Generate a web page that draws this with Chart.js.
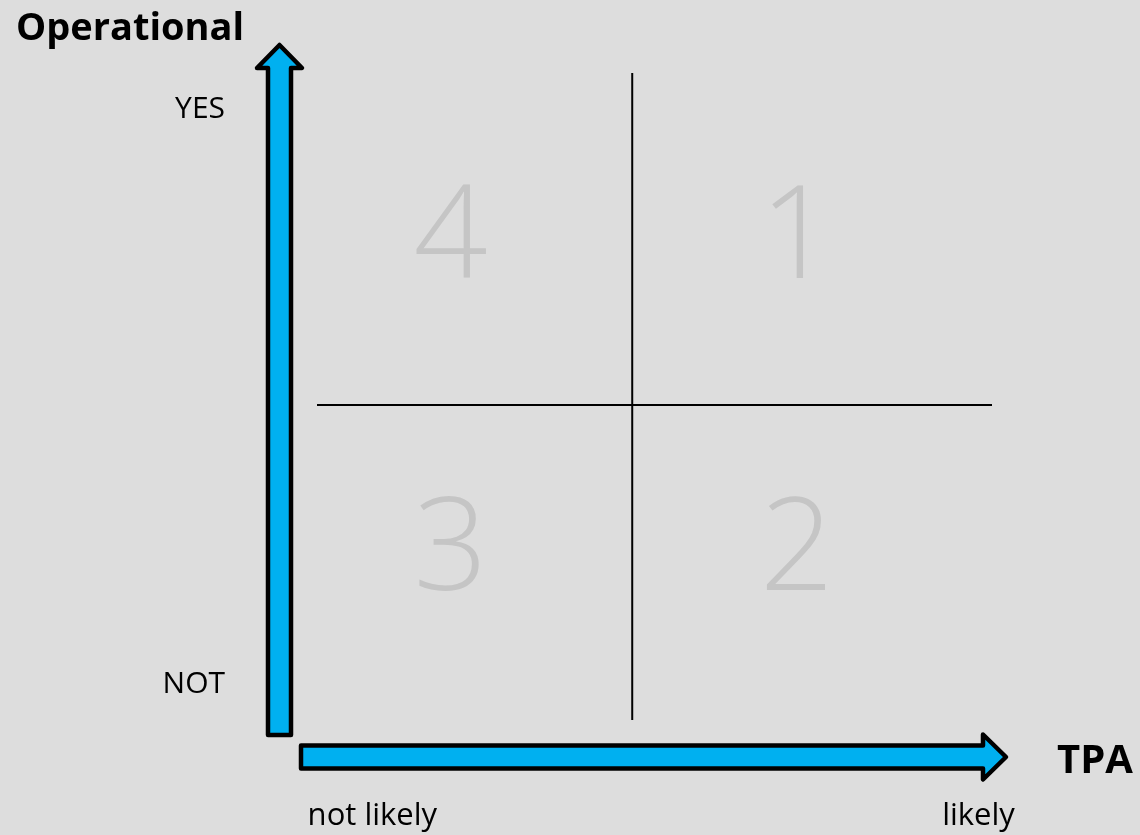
<!DOCTYPE html>
<html lang="en">
<head>
    <meta charset="UTF-8">
    <title>Operational vs TPA</title>
    <script src="https://cdn.jsdelivr.net/npm/chart.js"></script>
    <style>
        * { margin: 0; padding: 0; box-sizing: border-box; }
        body { background: #dddddd; width: 1140px; height: 835px; overflow: hidden; }
        .chart-container { position: relative; width: 1140px; height: 835px; }
    </style>
</head>
<body>
    <div class="chart-container">
        <canvas id="myChart"></canvas>
    </div>

    <script>
        // Data
        const quadrantLabels = ['4', '1', '3', '2'];
        const quadrantX = [1.98, 7.11, 1.98, 7.11];
        const quadrantY = [7.40, 7.40, 2.58, 2.58];
        const splitX = 4.67;          // vertical divider
        const splitY = 4.87;          // horizontal divider
        const yTickValues = [0.55, 9.43];
        const yTickLabels = ['NOT', 'YES'];
        const xTickValues = [0.82, 9.8];
        const xTickLabels = ['not likely', 'likely'];
        const yAxisTitle = 'Operational';
        const xAxisTitle = 'TPA';

        const BLUE = '#00b0f0';
        const FONT = "'Open Sans', 'DejaVu Sans', sans-serif";

        // Blue arrows along the axes + bold axis titles
        const arrowPlugin = {
            id: 'arrows',
            afterDraw(chart) {
                const { ctx, chartArea: a } = chart;
                ctx.save();
                ctx.fillStyle = BLUE;
                ctx.strokeStyle = '#000';
                ctx.lineWidth = 4.5;
                ctx.lineJoin = 'round';

                // vertical arrow
                const cx = a.left - 37.5;
                ctx.beginPath();
                ctx.moveTo(cx - 11.5, a.bottom + 15);
                ctx.lineTo(cx - 11.5, a.top - 5);
                ctx.lineTo(cx - 22.5, a.top - 5);
                ctx.lineTo(cx, a.top - 28);
                ctx.lineTo(cx + 22.5, a.top - 5);
                ctx.lineTo(cx + 11.5, a.top - 5);
                ctx.lineTo(cx + 11.5, a.bottom + 15);
                ctx.closePath();
                ctx.fill();
                ctx.stroke();

                // horizontal arrow
                const cy = a.bottom + 37;
                ctx.beginPath();
                ctx.moveTo(a.left - 16, cy - 11.5);
                ctx.lineTo(a.right - 9, cy - 11.5);
                ctx.lineTo(a.right - 9, cy - 22.5);
                ctx.lineTo(a.right + 14, cy);
                ctx.lineTo(a.right - 9, cy + 22.5);
                ctx.lineTo(a.right - 9, cy + 11.5);
                ctx.lineTo(a.left - 16, cy + 11.5);
                ctx.closePath();
                ctx.fill();
                ctx.stroke();

                ctx.fillStyle = '#000';
                ctx.textBaseline = 'alphabetic';
                ctx.textAlign = 'left';
                ctx.font = 'bold 38px ' + FONT;
                ctx.fillText(yAxisTitle, 16, 40);
                ctx.font = 'bold 40px ' + FONT;
                ctx.fillText(xAxisTitle, a.right + 65, cy + 16);
                ctx.restore();
            }
        };

        // Big grey quadrant numbers
        const numberPlugin = {
            id: 'quadrantNumbers',
            afterDatasetsDraw(chart) {
                const { ctx } = chart;
                const meta = chart.getDatasetMeta(2);
                ctx.save();
                ctx.fillStyle = '#c5c5c5';
                ctx.font = '300 130px ' + FONT;
                ctx.textAlign = 'center';
                ctx.textBaseline = 'middle';
                meta.data.forEach((pt, i) => {
                    ctx.fillText(quadrantLabels[i], pt.x, pt.y);
                });
                ctx.restore();
            }
        };

        const ctx = document.getElementById('myChart').getContext('2d');

        const chart = new Chart(ctx, {
            type: 'scatter',
            data: {
                datasets: [
                    {
                        type: 'line',
                        data: [{ x: splitX, y: 0 }, { x: splitX, y: 10 }],
                        borderColor: '#000',
                        borderWidth: 2,
                        pointRadius: 0
                    },
                    {
                        type: 'line',
                        data: [{ x: 0, y: splitY }, { x: 10, y: splitY }],
                        borderColor: '#000',
                        borderWidth: 2,
                        pointRadius: 0
                    },
                    {
                        data: quadrantX.map((x, i) => ({ x: x, y: quadrantY[i] })),
                        pointRadius: 0
                    }
                ]
            },
            options: {
                responsive: true,
                maintainAspectRatio: false,
                animation: false,
                events: [],
                layout: { padding: { top: 73, right: 148, left: 0, bottom: 0 } },
                plugins: {
                    legend: { display: false },
                    tooltip: { enabled: false }
                },
                scales: {
                    x: {
                        type: 'linear',
                        min: 0,
                        max: 10,
                        afterFit: s => { s.height = 115; s.paddingLeft = 0; s.paddingRight = 0; },
                        afterBuildTicks: s => { s.ticks = xTickValues.map(v => ({ value: v })); },
                        grid: { display: false, drawTicks: false },
                        border: { display: false },
                        ticks: {
                            padding: 78,
                            color: '#000',
                            font: { family: FONT, size: 31 },
                            callback: (v, i) => xTickLabels[i]
                        }
                    },
                    y: {
                        type: 'linear',
                        min: 0,
                        max: 10,
                        // big tick padding would otherwise push the plot area down
                        afterFit: s => { s.width = 317; s.paddingTop = 0; s.paddingBottom = 0; },
                        afterBuildTicks: s => { s.ticks = yTickValues.map(v => ({ value: v })); },
                        grid: { display: false, drawTicks: false },
                        border: { display: false },
                        ticks: {
                            padding: 92,
                            color: '#000',
                            font: { family: FONT, size: 30 },
                            callback: (v, i) => yTickLabels[i]
                        }
                    }
                }
            },
            plugins: [arrowPlugin, numberPlugin]
        });
    </script>
</body>
</html>
